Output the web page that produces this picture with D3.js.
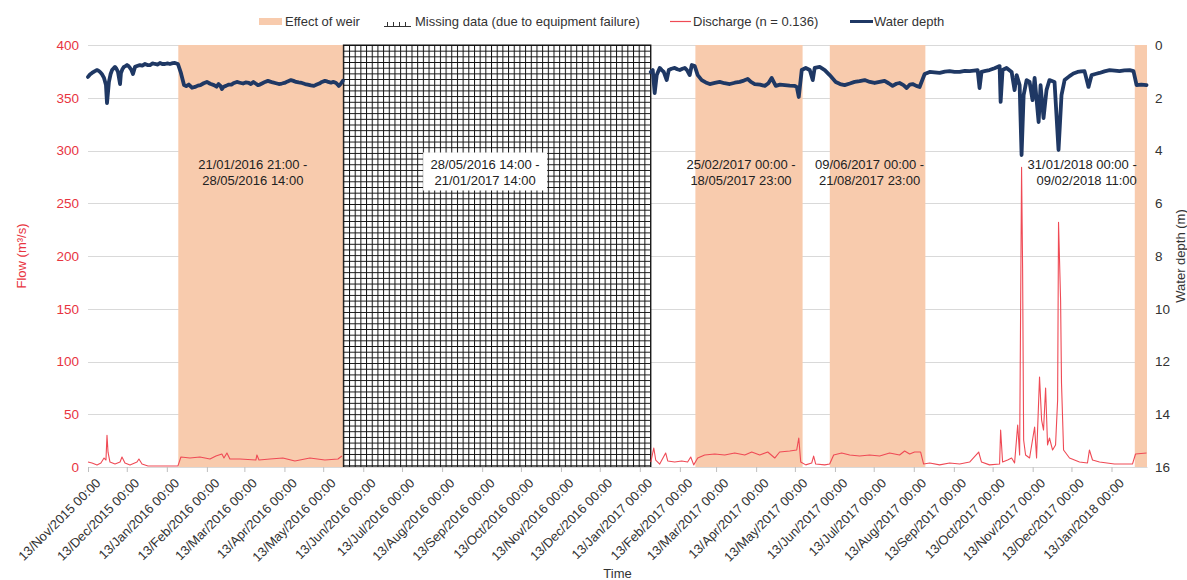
<!DOCTYPE html>
<html><head><meta charset="utf-8">
<script src="https://cdn.jsdelivr.net/npm/d3@7"></script>
<style>
body{margin:0;background:#fff}
svg{display:block;font-family:"Liberation Sans",Arial,sans-serif}
</style>
</head><body>
<svg id="chart" width="1187" height="580"></svg>
<script>
// Series start; all sample times below are day offsets from this moment
const seriesStart = "2015-11-13T00:00";
const seriesEnd = "2018-02-09T11:00";

// Month tick labels along the time axis
const tickLabels = [
  "13/Nov/2015 00:00","13/Dec/2015 00:00","13/Jan/2016 00:00","13/Feb/2016 00:00",
  "13/Mar/2016 00:00","13/Apr/2016 00:00","13/May/2016 00:00","13/Jun/2016 00:00",
  "13/Jul/2016 00:00","13/Aug/2016 00:00","13/Sep/2016 00:00","13/Oct/2016 00:00",
  "13/Nov/2016 00:00","13/Dec/2016 00:00","13/Jan/2017 00:00","13/Feb/2017 00:00",
  "13/Mar/2017 00:00","13/Apr/2017 00:00","13/May/2017 00:00","13/Jun/2017 00:00",
  "13/Jul/2017 00:00","13/Aug/2017 00:00","13/Sep/2017 00:00","13/Oct/2017 00:00",
  "13/Nov/2017 00:00","13/Dec/2017 00:00","13/Jan/2018 00:00"
];
const flowTicks = [0,50,100,150,200,250,300,350,400];
const depthTicks = [0,2,4,6,8,10,12,14,16];

// Periods affected by the weir
const weirFrom = ["2016-01-21T21:00","2017-02-25T00:00","2017-06-09T00:00","2018-01-31T00:00"];
const weirTo   = ["2016-05-28T14:00","2017-05-18T23:00","2017-08-21T23:00","2018-02-09T11:00"];
const weirText = [
  ["21/01/2016 21:00 -","28/05/2016 14:00"],
  ["25/02/2017 00:00 -","18/05/2017 23:00"],
  ["09/06/2017 00:00 -","21/08/2017 23:00"],
  ["31/01/2018 00:00 -","09/02/2018 11:00"]
];
// Gap in the record
const missingFrom = "2016-05-28T14:00";
const missingTo = "2017-01-21T14:00";
const missingText = ["28/05/2016 14:00 -","21/01/2017 14:00"];

// Water depth (m), before the gap
const depthDaysA = [0,1.5,3.1,5,7,8.2,9.3,11,12.4,13.9,14.7,16.2,17.5,18.6,20.9,22,23.2,24.8,25.5,26.6,27.8,29,30.2,31.4,32.5,33.6,34.8,36.4,38,40.2,42,44.1,46,48,50,51.8,54,55.7,57.5,59.6,61.5,63.4,65.5,67.3,69.6,71.9,74.3,
  76,78,80.5,82.8,85,87,89.5,92,94.5,97.5,99.5,101,102.5,103.6,105,106.7,109,111,113,115.2,117.5,120,122,124.5,126,128,129.7,131.5,133,135,137,139.2,141,143,145.5,147.7,150,152,154.5,157,159,161,163,165.5,168,170,172.5,174.8,177,179,181,183.3,185,186,188,189.5,191,192,193.2,194.1,195.5,197.2];
const depthValsA = [1.21,1.12,1.06,1.00,0.95,0.98,1.02,1.12,1.25,1.52,2.2,1.40,1.10,0.95,0.83,0.90,1.02,1.48,1.06,0.92,0.83,0.80,0.76,0.80,0.87,0.95,1.10,0.83,0.80,0.76,0.78,0.72,0.76,0.76,0.70,0.72,0.74,0.68,0.72,0.72,0.70,0.72,0.69,0.68,0.72,1.06,1.52,
  1.56,1.50,1.62,1.59,1.54,1.52,1.45,1.40,1.47,1.52,1.58,1.48,1.55,1.67,1.58,1.55,1.50,1.50,1.44,1.40,1.43,1.46,1.42,1.44,1.48,1.40,1.46,1.52,1.50,1.45,1.40,1.36,1.39,1.42,1.45,1.48,1.46,1.44,1.38,1.33,1.36,1.40,1.42,1.44,1.48,1.50,1.53,1.55,1.50,1.46,1.40,1.36,1.38,1.40,1.43,1.40,1.42,1.44,1.50,1.55,1.48,1.36];
// Water depth (m), after the gap
const depthDaysB = [435.5,437,438.5,440.1,442.4,444,445.5,447.8,449.4,451.5,454,456,457.9,460,461.8,463.5,465.6,467.2,469.5,471.8,474.9,478,481.1,485,488.8,492.5,496.6,500.5,504.3,507.5,510.5,513,515.9,520,523.7,526.5,529,532.2,535.5,539.2,543,546.9,548.5,550,552.3,555.4,558.5,560.8,562.3,566.2,570.1,573.9,578.6,582,585.5,589.5,593.2,597,601,605,608.7,612.5,616.4,619.5,622.6,625.5,628,631,633.5,636,638.1,641,643.5,647.4,651.3,655,659,663,666.7,670.5,674.5,678.5,682.2,685.5,688.4,689.9,691.4,694.5,697.6,701.5,705.4,706.2,707.7,710.8,714.7,717,718.6,720.9,722.4,724,726.3,728.6,730.9,732.5,735.6,737.1,739.4,741.7,744,747.9,751,753.3,755.7,759.5,762.5,765.7,768.5,771.1,774.2,776.6,779.5,782.7,786.5,790.5,794.5,798.2,802,806,809,811.4,815,819.1];
const depthValsB = [1.02,0.95,1.82,1.14,0.87,0.95,1.02,1.33,0.95,0.90,0.87,0.92,0.95,0.90,0.87,0.95,1.14,0.76,0.80,1.14,1.33,1.42,1.48,1.44,1.40,1.45,1.48,1.43,1.40,1.35,1.29,1.40,1.48,1.50,1.55,1.45,1.25,1.55,1.50,1.52,1.54,1.55,1.60,1.97,0.95,0.87,0.95,1.33,0.87,0.83,0.95,1.14,1.40,1.48,1.52,1.46,1.40,1.37,1.33,1.40,1.44,1.40,1.36,1.45,1.55,1.47,1.44,1.52,1.63,1.50,1.48,1.55,1.59,1.10,1.02,1.04,1.06,1.01,0.99,1.02,1.02,0.98,0.99,0.97,0.95,1.63,1.02,0.98,0.95,0.88,0.80,2.16,0.95,0.87,1.02,1.71,1.14,1.52,4.17,1.90,1.33,1.40,2.09,1.25,2.92,1.52,2.77,1.71,1.33,1.40,3.98,1.90,1.33,1.18,1.08,1.02,1.00,0.99,1.59,1.14,1.10,1.06,1.00,0.95,0.97,0.99,0.96,0.95,0.99,1.52,1.50,1.52];

// Discharge (m³/s), before the gap
const flowDaysA = [0,3.1,7,10,12.4,13.9,14.7,15.5,17,20.9,24.8,26.3,28.6,32.5,37.9,39.4,41.8,46.4,69.6,71.9,78.9,86.6,94.4,99,103.6,105.2,107.5,109.8,117.6,129.9,130.7,132.3,140.8,150.8,160.1,171.7,183.3,193.4,196.5];
const flowValsA = [4.7,3.8,2,3.8,8.5,6.6,30,14,4.7,2.8,4.7,9.5,3.8,2,4.7,7.6,2.8,1,1,9.5,8.5,9.5,7.6,10.4,12.3,8.5,13.3,7.6,7.6,6.6,11.4,6.6,7.6,8.5,5.7,8.5,6.6,7.6,10.4];
// Discharge (m³/s), after the gap
const flowDaysB = [435.5,437.8,439.3,442.4,447,448.6,454,459.4,464,466.4,468.7,471.8,477.2,485,492.7,500.4,508.2,513.6,519.8,526,531.4,535.2,543,548.4,550,551.5,555.4,560,561.5,563.1,570.1,573.9,577,583.2,589.4,597.1,604.8,612.6,620.3,628,631.9,635.8,639.6,644.3,646.6,651.3,659,666.7,674.5,682.2,689.2,691.4,697.6,705.4,706.2,707.7,711.6,714.7,717,719.4,720.9,722.4,723.2,724,725.5,728.6,732.5,734,736.3,737.9,739.4,741,742.5,744,746.4,748.7,750.3,751,752.6,753.3,754.9,759.5,767.2,773.4,774.9,777.3,782.7,794.3,808.2,810.6,819.1];
const flowValsB = [4.7,18,6.6,2.8,13.3,5.7,4.7,5.7,4.7,9.5,2,8.5,11.4,12.3,11.4,13.3,11.4,14.2,11.4,14.2,8.5,14.2,15.2,16.1,27.5,4.7,2,3.8,10.4,2.8,2,2.8,11.4,13.3,11.4,10.4,11.4,10.4,13.3,11.4,15.2,12.3,14.2,14.2,2.8,3.8,2,3.8,2.8,4.7,14.2,4.7,2,2.8,35,4.7,6.6,8.5,3.8,39.8,11.4,284,188,25.6,11.4,8.5,37.9,8.5,85.3,44.5,35,74.9,20.9,27.5,16.1,20.9,63.5,232,158,79.6,16.1,8.5,4.7,3.8,16.1,6.6,4.7,2.8,2.8,12.3,13.3];

// ---- drawing ----
const parseIso = d3.utcParse("%Y-%m-%dT%H:%M");
const parseTick = d3.utcParse("%d/%b/%Y %H:%M");
const fmtTick = d3.utcFormat("%d/%b/%Y %H:%M");
const t0 = parseIso(seriesStart);
const atDay = d => new Date(t0.getTime() + d * 864e5);

const plot = {left: 88, right: 1147, top: 45, bottom: 467};
const svg = d3.select("#chart");

const x = d3.scaleUtc().domain([t0, parseIso(seriesEnd)]).range([plot.left, plot.right]);
const yFlow = d3.scaleLinear().domain([0, 400]).range([plot.bottom, plot.top]);
const yDepth = d3.scaleLinear().domain([0, 16]).range([plot.top, plot.bottom]);

const defs = svg.append("defs");
const cell = 5.68;
const pat = defs.append("pattern").attr("id", "gridfill")
  .attr("patternUnits", "userSpaceOnUse").attr("width", cell).attr("height", cell)
  .attr("x", x(parseIso(missingFrom))).attr("y", plot.top);
pat.append("rect").attr("width", cell).attr("height", cell).attr("fill", "#fff");
pat.append("path").attr("d", `M0,0.5H${cell}M0.5,0V${cell}`).attr("stroke", "#111").attr("stroke-width", 1);

// horizontal gridlines
svg.append("g").selectAll("line").data(flowTicks).join("line")
  .attr("x1", plot.left).attr("x2", plot.right)
  .attr("y1", d => Math.round(yFlow(d)) + 0.5).attr("y2", d => Math.round(yFlow(d)) + 0.5)
  .attr("stroke", "#d9d9d9").attr("stroke-width", 1);

// weir periods
const weir = weirFrom.map((f, i) => ({from: parseIso(f), to: parseIso(weirTo[i]), text: weirText[i]}));
svg.append("g").selectAll("rect").data(weir).join("rect")
  .attr("x", d => x(d.from)).attr("width", d => x(d.to) - x(d.from))
  .attr("y", plot.top).attr("height", plot.bottom - plot.top)
  .attr("fill", "#f8cbad");

// missing-data period
const mFrom = parseIso(missingFrom), mTo = parseIso(missingTo);
svg.append("rect")
  .attr("x", x(mFrom)).attr("width", x(mTo) - x(mFrom))
  .attr("y", plot.top).attr("height", plot.bottom - plot.top)
  .attr("fill", "url(#gridfill)").attr("stroke", "#111").attr("stroke-width", 1);

// time axis
const tickDates = tickLabels.map(parseTick);
const xAxis = svg.append("g").attr("transform", `translate(0,${plot.bottom})`)
  .call(d3.axisBottom(x).tickValues(tickDates).tickFormat(fmtTick).tickSize(5).tickSizeOuter(0));
xAxis.select(".domain").attr("stroke", "#d9d9d9");
xAxis.selectAll(".tick line").attr("stroke", "#bfbfbf");
xAxis.selectAll(".tick text")
  .attr("font-size", 13).attr("fill", "#333").attr("font-family", null)
  .attr("text-anchor", "end").attr("dy", "0.35em")
  .attr("transform", "translate(4,8) rotate(-45)");

// left axis
const yl = svg.append("g").attr("transform", `translate(${plot.left},0)`)
  .call(d3.axisLeft(yFlow).tickValues(flowTicks).tickSize(0).tickPadding(9));
yl.select(".domain").remove();
yl.selectAll(".tick text").attr("font-size", 13.5).attr("fill", "#e8343f").attr("font-family", null);

// right axis
const yr = svg.append("g").attr("transform", `translate(${plot.right},0)`)
  .call(d3.axisRight(yDepth).tickValues(depthTicks).tickSize(0).tickPadding(8));
yr.select(".domain").remove();
yr.selectAll(".tick text").attr("font-size", 13.5).attr("fill", "#333").attr("font-family", null);

// series
const lineFlow = d3.line().x(d => x(atDay(d[0]))).y(d => yFlow(d[1]));
const lineDepth = d3.line().x(d => x(atDay(d[0]))).y(d => yDepth(d[1]));
const zip = (a, b) => a.map((v, i) => [v, b[i]]);

[zip(flowDaysA, flowValsA), zip(flowDaysB, flowValsB)].forEach(seg =>
  svg.append("path").datum(seg).attr("d", lineFlow)
    .attr("fill", "none").attr("stroke", "#ef4a55").attr("stroke-width", 1.1).attr("stroke-linejoin", "round"));
[zip(depthDaysA, depthValsA), zip(depthDaysB, depthValsB)].forEach(seg =>
  svg.append("path").datum(seg).attr("d", lineDepth)
    .attr("fill", "none").attr("stroke", "#1f3864").attr("stroke-width", 3.8)
    .attr("stroke-linejoin", "round").attr("stroke-linecap", "round"));

// period annotations
function twoLines(g, lines, anchor) {
  const t = g.append("text").attr("font-size", 13).attr("fill", "#222").attr("text-anchor", anchor);
  lines.forEach((s, i) => t.append("tspan").attr("x", 0).attr("y", i * 16).text(s));
  return t;
}
weir.forEach((d, i) => {
  const last = i === weir.length - 1;
  const cx = last ? x(d.from) + 2 : (x(d.from) + x(d.to)) / 2 - 8;
  const g = svg.append("g").attr("transform", `translate(${cx},${yFlow(300) + 18})`);
  twoLines(g, d.text, last ? "end" : "middle");
});
{
  const cx = (x(mFrom) + x(mTo)) / 2 - 12;
  const g = svg.append("g").attr("transform", `translate(${cx},${yFlow(300) + 18})`);
  g.append("rect").attr("x", -62).attr("y", -16).attr("width", 124).attr("height", 38).attr("fill", "#fff");
  twoLines(g, missingText, "middle");
}

// axis titles
svg.append("text").attr("transform", `translate(26,${(plot.top + plot.bottom) / 2}) rotate(-90)`)
  .attr("text-anchor", "middle").attr("font-size", 13).attr("fill", "#e8343f").text("Flow (m³/s)");
svg.append("text").attr("transform", `translate(1185,${(plot.top + plot.bottom) / 2}) rotate(-90)`)
  .attr("text-anchor", "middle").attr("font-size", 13).attr("fill", "#333").text("Water depth (m)");
svg.append("text").attr("x", (plot.left + plot.right) / 2).attr("y", 578)
  .attr("text-anchor", "middle").attr("font-size", 13).attr("fill", "#333").text("Time");

// legend
const lg = svg.append("g").attr("font-size", 13).attr("fill", "#333");
lg.append("rect").attr("x", 259).attr("y", 18).attr("width", 23).attr("height", 7).attr("fill", "#f8cbad");
lg.append("text").attr("x", 285).attr("y", 26).text("Effect of weir");
const icon = lg.append("g").attr("transform", "translate(384,19)").attr("stroke", "#333").attr("stroke-width", 1);
icon.append("path").attr("d", "M0,7.5H27");
[3.5, 9.5, 15.5, 21.5].forEach(v => icon.append("path").attr("d", `M${v},3V7.5`));
lg.append("text").attr("x", 415).attr("y", 26).text("Missing data (due to equipment failure)");
lg.append("path").attr("d", "M670,21.5H691").attr("stroke", "#ef4a55").attr("stroke-width", 1.2);
lg.append("text").attr("x", 693).attr("y", 26).text("Discharge (n = 0.136)");
lg.append("path").attr("d", "M850,21.5H873").attr("stroke", "#1f3864").attr("stroke-width", 3);
lg.append("text").attr("x", 874).attr("y", 26).text("Water depth");
</script>
</body></html>
